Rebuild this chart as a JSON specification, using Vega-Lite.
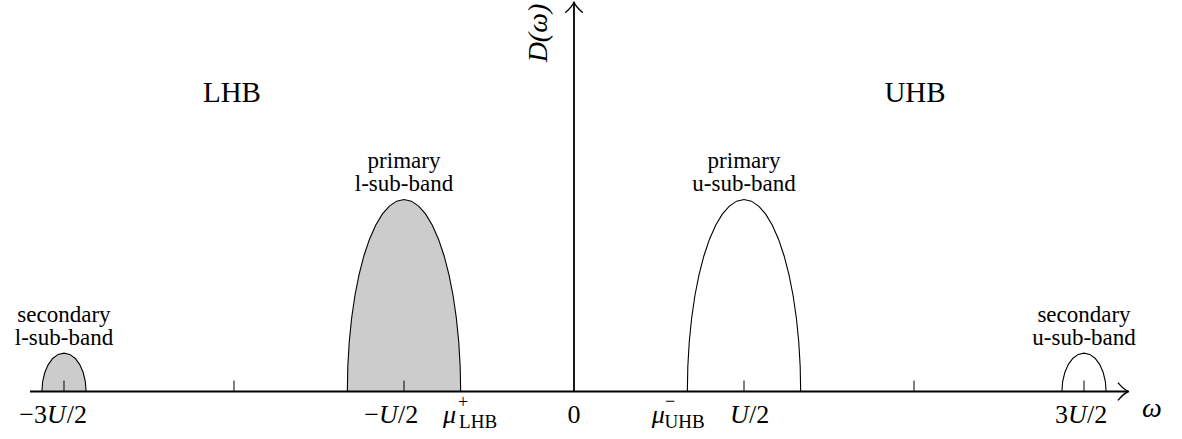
{
  "$schema": "https://vega.github.io/schema/vega-lite/v6.json",
  "width": 1182,
  "height": 439,
  "padding": 0,
  "autosize": {"type": "none"},
  "background": "white",
  "config": {"view": {"stroke": null}},
  "datasets": {
    "bands": [
      {"band": "sec-l", "half": "LHB", "w": -1.565, "D": 0},
      {"band": "sec-l", "half": "LHB", "w": -1.56279, "D": 0.05176},
      {"band": "sec-l", "half": "LHB", "w": -1.55629, "D": 0.1},
      {"band": "sec-l", "half": "LHB", "w": -1.54596, "D": 0.14142},
      {"band": "sec-l", "half": "LHB", "w": -1.5325, "D": 0.17321},
      {"band": "sec-l", "half": "LHB", "w": -1.51682, "D": 0.19319},
      {"band": "sec-l", "half": "LHB", "w": -1.5, "D": 0.2},
      {"band": "sec-l", "half": "LHB", "w": -1.48318, "D": 0.19319},
      {"band": "sec-l", "half": "LHB", "w": -1.4675, "D": 0.17321},
      {"band": "sec-l", "half": "LHB", "w": -1.45404, "D": 0.14142},
      {"band": "sec-l", "half": "LHB", "w": -1.44371, "D": 0.1},
      {"band": "sec-l", "half": "LHB", "w": -1.43721, "D": 0.05176},
      {"band": "sec-l", "half": "LHB", "w": -1.435, "D": 0},
      {"band": "pri-l", "half": "LHB", "w": -0.66667, "D": 0},
      {"band": "pri-l", "half": "LHB", "w": -0.66524, "D": 0.13053},
      {"band": "pri-l", "half": "LHB", "w": -0.66099, "D": 0.25882},
      {"band": "pri-l", "half": "LHB", "w": -0.65398, "D": 0.38268},
      {"band": "pri-l", "half": "LHB", "w": -0.64434, "D": 0.5},
      {"band": "pri-l", "half": "LHB", "w": -0.63223, "D": 0.60876},
      {"band": "pri-l", "half": "LHB", "w": -0.61785, "D": 0.70711},
      {"band": "pri-l", "half": "LHB", "w": -0.60146, "D": 0.79335},
      {"band": "pri-l", "half": "LHB", "w": -0.58333, "D": 0.86603},
      {"band": "pri-l", "half": "LHB", "w": -0.56378, "D": 0.92388},
      {"band": "pri-l", "half": "LHB", "w": -0.54314, "D": 0.96593},
      {"band": "pri-l", "half": "LHB", "w": -0.52176, "D": 0.99144},
      {"band": "pri-l", "half": "LHB", "w": -0.5, "D": 1},
      {"band": "pri-l", "half": "LHB", "w": -0.47824, "D": 0.99144},
      {"band": "pri-l", "half": "LHB", "w": -0.45686, "D": 0.96593},
      {"band": "pri-l", "half": "LHB", "w": -0.43622, "D": 0.92388},
      {"band": "pri-l", "half": "LHB", "w": -0.41667, "D": 0.86603},
      {"band": "pri-l", "half": "LHB", "w": -0.39854, "D": 0.79335},
      {"band": "pri-l", "half": "LHB", "w": -0.38215, "D": 0.70711},
      {"band": "pri-l", "half": "LHB", "w": -0.36777, "D": 0.60876},
      {"band": "pri-l", "half": "LHB", "w": -0.35566, "D": 0.5},
      {"band": "pri-l", "half": "LHB", "w": -0.34602, "D": 0.38268},
      {"band": "pri-l", "half": "LHB", "w": -0.33901, "D": 0.25882},
      {"band": "pri-l", "half": "LHB", "w": -0.33476, "D": 0.13053},
      {"band": "pri-l", "half": "LHB", "w": -0.33333, "D": 0},
      {"band": "pri-u", "half": "UHB", "w": 0.33333, "D": 0},
      {"band": "pri-u", "half": "UHB", "w": 0.33476, "D": 0.13053},
      {"band": "pri-u", "half": "UHB", "w": 0.33901, "D": 0.25882},
      {"band": "pri-u", "half": "UHB", "w": 0.34602, "D": 0.38268},
      {"band": "pri-u", "half": "UHB", "w": 0.35566, "D": 0.5},
      {"band": "pri-u", "half": "UHB", "w": 0.36777, "D": 0.60876},
      {"band": "pri-u", "half": "UHB", "w": 0.38215, "D": 0.70711},
      {"band": "pri-u", "half": "UHB", "w": 0.39854, "D": 0.79335},
      {"band": "pri-u", "half": "UHB", "w": 0.41667, "D": 0.86603},
      {"band": "pri-u", "half": "UHB", "w": 0.43622, "D": 0.92388},
      {"band": "pri-u", "half": "UHB", "w": 0.45686, "D": 0.96593},
      {"band": "pri-u", "half": "UHB", "w": 0.47824, "D": 0.99144},
      {"band": "pri-u", "half": "UHB", "w": 0.5, "D": 1},
      {"band": "pri-u", "half": "UHB", "w": 0.52176, "D": 0.99144},
      {"band": "pri-u", "half": "UHB", "w": 0.54314, "D": 0.96593},
      {"band": "pri-u", "half": "UHB", "w": 0.56378, "D": 0.92388},
      {"band": "pri-u", "half": "UHB", "w": 0.58333, "D": 0.86603},
      {"band": "pri-u", "half": "UHB", "w": 0.60146, "D": 0.79335},
      {"band": "pri-u", "half": "UHB", "w": 0.61785, "D": 0.70711},
      {"band": "pri-u", "half": "UHB", "w": 0.63223, "D": 0.60876},
      {"band": "pri-u", "half": "UHB", "w": 0.64434, "D": 0.5},
      {"band": "pri-u", "half": "UHB", "w": 0.65398, "D": 0.38268},
      {"band": "pri-u", "half": "UHB", "w": 0.66099, "D": 0.25882},
      {"band": "pri-u", "half": "UHB", "w": 0.66524, "D": 0.13053},
      {"band": "pri-u", "half": "UHB", "w": 0.66667, "D": 0},
      {"band": "sec-u", "half": "UHB", "w": 1.435, "D": 0},
      {"band": "sec-u", "half": "UHB", "w": 1.43721, "D": 0.05176},
      {"band": "sec-u", "half": "UHB", "w": 1.44371, "D": 0.1},
      {"band": "sec-u", "half": "UHB", "w": 1.45404, "D": 0.14142},
      {"band": "sec-u", "half": "UHB", "w": 1.4675, "D": 0.17321},
      {"band": "sec-u", "half": "UHB", "w": 1.48318, "D": 0.19319},
      {"band": "sec-u", "half": "UHB", "w": 1.5, "D": 0.2},
      {"band": "sec-u", "half": "UHB", "w": 1.51682, "D": 0.19319},
      {"band": "sec-u", "half": "UHB", "w": 1.5325, "D": 0.17321},
      {"band": "sec-u", "half": "UHB", "w": 1.54596, "D": 0.14142},
      {"band": "sec-u", "half": "UHB", "w": 1.55629, "D": 0.1},
      {"band": "sec-u", "half": "UHB", "w": 1.56279, "D": 0.05176},
      {"band": "sec-u", "half": "UHB", "w": 1.565, "D": 0}
    ],
    "ticks": [{"w": -1.5}, {"w": -1}, {"w": -0.5}, {"w": 0.5}, {"w": 1}, {"w": 1.5}],
    "tl_pre": [
      {"w": -1.55, "D": -0.164, "label": "−3"},
      {"w": -0.5735, "D": -0.164, "label": "−"},
      {"w": 1.4529, "D": -0.164, "label": "3"}
    ],
    "tl_U": [
      {"w": -1.55, "D": -0.164, "label": "U"},
      {"w": -0.5735, "D": -0.164, "label": "U"},
      {"w": 0.4588, "D": -0.164, "label": "U"},
      {"w": 1.4529, "D": -0.164, "label": "U"}
    ],
    "tl_post": [
      {"w": -1.492, "D": -0.164, "label": "/2"},
      {"w": -0.5176, "D": -0.164, "label": "/2"},
      {"w": 0.5147, "D": -0.164, "label": "/2"},
      {"w": 1.5088, "D": -0.164, "label": "/2"}
    ],
    "tl_zero": [
      {"w": 0, "D": -0.164, "label": "0"}
    ],
    "mu": [
      {"w": -0.385, "D": -0.164, "label": "μ"},
      {"w": 0.2285, "D": -0.164, "label": "μ"}
    ],
    "musub": [
      {"w": -0.338, "D": -0.19, "label": "LHB"},
      {"w": 0.266, "D": -0.19, "label": "UHB"}
    ],
    "musup": [
      {"w": -0.341, "D": -0.086, "label": "+"},
      {"w": 0.268, "D": -0.08, "label": "−"}
    ],
    "halves": [
      {"w": -1.006, "D": 1.509, "label": "LHB"},
      {"w": 1.003, "D": 1.509, "label": "UHB"}
    ],
    "bandlabels": [
      {"w": -1.5, "D": 0.3604, "label": "secondary\nl-sub-band"},
      {"w": -0.5, "D": 1.1615, "label": "primary\nl-sub-band"},
      {"w": 0.5, "D": 1.1615, "label": "primary\nu-sub-band"},
      {"w": 1.5, "D": 0.3604, "label": "secondary\nu-sub-band"}
    ],
    "axislabels": [
      {"w": 1.7, "D": -0.131, "label": "ω", "angle": 0},
      {"w": -0.08, "D": 1.867, "label": "D(ω)", "angle": 270}
    ],
    "one": [{}]
  },
  "layer": [
    {
      "data": {"name": "bands"},
      "mark": {"type": "area", "interpolate": "linear"},
      "encoding": {
        "x": {"field": "w", "type": "quantitative", "scale": {"domain": [-1.6882, 1.7882], "nice": false, "zero": false}, "axis": null},
        "y": {"field": "D", "type": "quantitative", "scale": {"domain": [-0.2474, 2.0391], "nice": false, "zero": false}, "axis": null},
        "y2": {"datum": 0},
        "color": {"field": "half", "type": "nominal", "scale": {"domain": ["LHB", "UHB"], "range": ["#cccccc", "#ffffff"]}, "legend": null},
        "detail": {"field": "band"}
      }
    },
    {
      "data": {"name": "bands"},
      "mark": {"type": "line", "interpolate": "linear", "stroke": "black", "strokeWidth": 1.1},
      "encoding": {
        "x": {"field": "w", "type": "quantitative"},
        "y": {"field": "D", "type": "quantitative"},
        "detail": {"field": "band"}
      }
    },
    {
      "data": {"name": "ticks"},
      "mark": {"type": "rule", "stroke": "black", "strokeWidth": 1},
      "encoding": {
        "x": {"field": "w", "type": "quantitative"},
        "y": {"datum": 0},
        "y2": {"datum": 0.057}
      }
    },
    {
      "data": {"name": "one"},
      "mark": {"type": "rule", "stroke": "black", "strokeWidth": 1.8},
      "encoding": {
        "x": {"datum": -1.6},
        "x2": {"datum": 1.628},
        "y": {"datum": 0}
      }
    },
    {
      "data": {"name": "one"},
      "mark": {"type": "rule", "stroke": "black", "strokeWidth": 1.8},
      "encoding": {
        "x": {"datum": 0},
        "y": {"datum": 0},
        "y2": {"datum": 2.025}
      }
    },
    {
      "data": {"name": "one"},
      "mark": {"type": "point", "shape": "M -2 -1.6 Q -0.8 -0.2 0 0 Q -0.8 0.2 -2 1.6", "filled": false, "stroke": "black", "strokeWidth": 1.3, "size": 121, "opacity": 1},
      "encoding": {
        "x": {"datum": 1.632},
        "y": {"datum": 0}
      }
    },
    {
      "data": {"name": "one"},
      "mark": {"type": "point", "shape": "M -1.6 2 Q -0.2 0.8 0 0 Q 0.2 0.8 1.6 2", "filled": false, "stroke": "black", "strokeWidth": 1.3, "size": 121, "opacity": 1},
      "encoding": {
        "x": {"datum": 0},
        "y": {"datum": 2.03}
      }
    },
    {
      "data": {"name": "tl_pre"},
      "mark": {"type": "text", "font": "Liberation Serif", "color": "black", "fontSize": 26, "align": "right", "baseline": "alphabetic"},
      "encoding": {
        "x": {"field": "w", "type": "quantitative"},
        "y": {"field": "D", "type": "quantitative"},
        "text": {"field": "label"}
      }
    },
    {
      "data": {"name": "tl_U"},
      "mark": {"type": "text", "font": "Liberation Serif", "color": "black", "fontSize": 26, "fontStyle": "italic", "align": "left", "baseline": "alphabetic"},
      "encoding": {
        "x": {"field": "w", "type": "quantitative"},
        "y": {"field": "D", "type": "quantitative"},
        "text": {"field": "label"}
      }
    },
    {
      "data": {"name": "tl_post"},
      "mark": {"type": "text", "font": "Liberation Serif", "color": "black", "fontSize": 26, "align": "left", "baseline": "alphabetic"},
      "encoding": {
        "x": {"field": "w", "type": "quantitative"},
        "y": {"field": "D", "type": "quantitative"},
        "text": {"field": "label"}
      }
    },
    {
      "data": {"name": "tl_zero"},
      "mark": {"type": "text", "font": "Liberation Serif", "color": "black", "fontSize": 26, "align": "center", "baseline": "alphabetic"},
      "encoding": {
        "x": {"field": "w", "type": "quantitative"},
        "y": {"field": "D", "type": "quantitative"},
        "text": {"field": "label"}
      }
    },
    {
      "data": {"name": "mu"},
      "mark": {"type": "text", "font": "Liberation Serif", "color": "black", "fontSize": 26, "fontStyle": "italic", "align": "left", "baseline": "alphabetic"},
      "encoding": {
        "x": {"field": "w", "type": "quantitative"},
        "y": {"field": "D", "type": "quantitative"},
        "text": {"field": "label"}
      }
    },
    {
      "data": {"name": "musub"},
      "mark": {"type": "text", "font": "Liberation Serif", "color": "black", "fontSize": 19, "align": "left", "baseline": "alphabetic"},
      "encoding": {
        "x": {"field": "w", "type": "quantitative"},
        "y": {"field": "D", "type": "quantitative"},
        "text": {"field": "label"}
      }
    },
    {
      "data": {"name": "musup"},
      "mark": {"type": "text", "font": "Liberation Serif", "color": "black", "fontSize": 18, "align": "left", "baseline": "alphabetic"},
      "encoding": {
        "x": {"field": "w", "type": "quantitative"},
        "y": {"field": "D", "type": "quantitative"},
        "text": {"field": "label"}
      }
    },
    {
      "data": {"name": "halves"},
      "mark": {"type": "text", "font": "Liberation Serif", "color": "black", "fontSize": 29, "align": "center", "baseline": "alphabetic"},
      "encoding": {
        "x": {"field": "w", "type": "quantitative"},
        "y": {"field": "D", "type": "quantitative"},
        "text": {"field": "label"}
      }
    },
    {
      "data": {"name": "bandlabels"},
      "mark": {"type": "text", "font": "Liberation Serif", "color": "black", "fontSize": 23, "align": "center", "baseline": "alphabetic", "lineBreak": "\n", "lineHeight": 23},
      "encoding": {
        "x": {"field": "w", "type": "quantitative"},
        "y": {"field": "D", "type": "quantitative"},
        "text": {"field": "label"}
      }
    },
    {
      "data": {"name": "axislabels"},
      "mark": {"type": "text", "font": "Liberation Serif", "color": "black", "fontSize": 28, "fontStyle": "italic", "align": "center", "baseline": "alphabetic"},
      "encoding": {
        "x": {"field": "w", "type": "quantitative"},
        "y": {"field": "D", "type": "quantitative"},
        "text": {"field": "label"},
        "angle": {"field": "angle", "type": "quantitative", "scale": null}
      }
    }
  ]
}
